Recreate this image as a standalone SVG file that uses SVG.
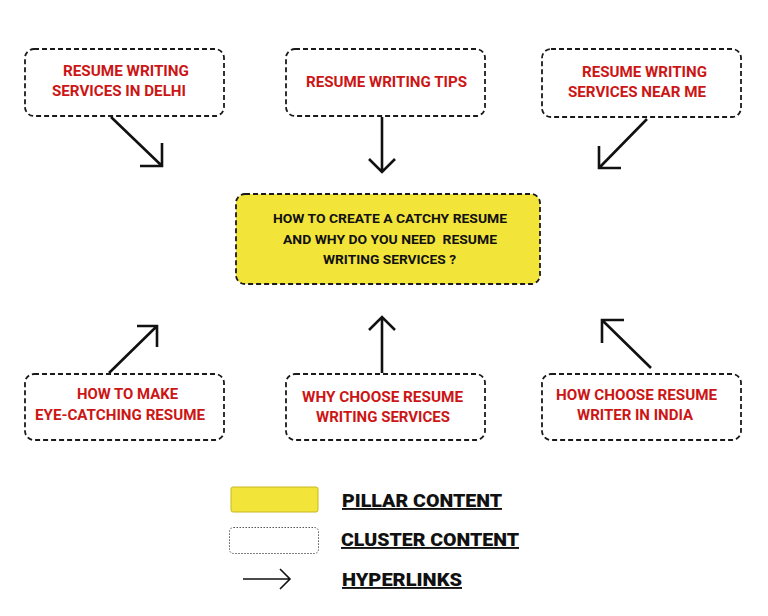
<svg xmlns="http://www.w3.org/2000/svg" width="768" height="616" viewBox="0 0 768 616">
<style>
.box{fill:#fff;stroke:#1a1a1a;stroke-width:1.8;stroke-dasharray:5 3}
.pillar{fill:#f3e43a;stroke:#1a1a1a;stroke-width:1.8;stroke-dasharray:5 3}
.t{font-family:Roboto,"Liberation Sans",sans-serif;font-weight:bold;font-size:15px;fill:#cc1515}
.c{font-family:Roboto,"Liberation Sans",sans-serif;font-weight:bold;font-size:13.5px;fill:#111}
.l{font-family:Roboto,"Liberation Sans",sans-serif;font-weight:900;font-size:19px;fill:#111;text-decoration:underline}
.a{fill:none;stroke:#111;stroke-width:2.6}
</style>
<rect width="768" height="616" fill="#fff"/>
<g id="connectors">
<path class="a" d="M111 117 L162 166 M162 143 L162 166 L140 166"/>
<path class="a" d="M382 117 L382 172 M369 159 L382 172 L395 159"/>
<path class="a" d="M647 119 L599 168 M599 146 L599 168 L621 168"/>
<path class="a" d="M109 373 L157 326 M137 326 L157 326 L157 347"/>
<path class="a" d="M382 373 L382 317 M369 330 L382 317 L395 330"/>
<path class="a" d="M651 368 L602 320 M602 343 L602 320 L624 320"/>
</g>
<g id="n1"><rect class="box" x="25" y="49" width="199" height="67" rx="9"/>
<text class="t" x="63" y="76" textLength="126" lengthAdjust="spacingAndGlyphs">RESUME WRITING</text>
<text class="t" x="52" y="96" textLength="134" lengthAdjust="spacingAndGlyphs">SERVICES IN DELHI</text></g>
<g id="n2"><rect class="box" x="286" y="49" width="199" height="67" rx="9"/>
<text class="t" x="306" y="87" textLength="161" lengthAdjust="spacingAndGlyphs">RESUME WRITING TIPS</text></g>
<g id="n3"><rect class="box" x="542" y="49" width="199" height="68" rx="9"/>
<text class="t" x="582" y="77" textLength="125" lengthAdjust="spacingAndGlyphs">RESUME WRITING</text>
<text class="t" x="568" y="97" textLength="138" lengthAdjust="spacingAndGlyphs">SERVICES NEAR ME</text></g>
<g id="center"><rect class="pillar" x="236" y="194" width="304" height="90" rx="9"/>
<text class="c" x="273" y="223" textLength="234" lengthAdjust="spacingAndGlyphs">HOW TO CREATE A CATCHY RESUME</text>
<text class="c" x="283" y="244" textLength="214" lengthAdjust="spacingAndGlyphs" xml:space="preserve" style="white-space:pre">AND WHY DO YOU NEED  RESUME</text>
<text class="c" x="323" y="264" textLength="133" lengthAdjust="spacingAndGlyphs">WRITING SERVICES ?</text></g>
<g id="n4"><rect class="box" x="25" y="374" width="199" height="66" rx="9"/>
<text class="t" x="77" y="399" textLength="101" lengthAdjust="spacingAndGlyphs">HOW TO MAKE</text>
<text class="t" x="35" y="420" textLength="170" lengthAdjust="spacingAndGlyphs">EYE-CATCHING RESUME</text></g>
<g id="n5"><rect class="box" x="286" y="374" width="199" height="66" rx="9"/>
<text class="t" x="302" y="402" textLength="161" lengthAdjust="spacingAndGlyphs">WHY CHOOSE RESUME</text>
<text class="t" x="316" y="422" textLength="134" lengthAdjust="spacingAndGlyphs">WRITING SERVICES</text></g>
<g id="n6"><rect class="box" x="542" y="374" width="199" height="66" rx="9"/>
<text class="t" x="556" y="400" textLength="161" lengthAdjust="spacingAndGlyphs">HOW CHOOSE RESUME</text>
<text class="t" x="577" y="420" textLength="116" lengthAdjust="spacingAndGlyphs">WRITER IN INDIA</text></g>
<g id="legend">
<rect x="231" y="487" width="87" height="25" rx="2" fill="#f3e43a" stroke="#c9b820" stroke-width="1"/>
<rect x="229.5" y="527.5" width="89" height="26" rx="4" fill="#fff" stroke="#555" stroke-width="1" stroke-dasharray="1.5 1.5"/>
<path d="M243 579 L290 579 M280 569 L290 579 L280 589" fill="none" stroke="#111" stroke-width="1.6"/>
<text class="l" x="342" y="507" textLength="160" lengthAdjust="spacingAndGlyphs">PILLAR CONTENT</text>
<text class="l" x="341" y="546" textLength="178" lengthAdjust="spacingAndGlyphs">CLUSTER CONTENT</text>
<text class="l" x="342" y="586" textLength="120" lengthAdjust="spacingAndGlyphs">HYPERLINKS</text>
</g>
</svg>
